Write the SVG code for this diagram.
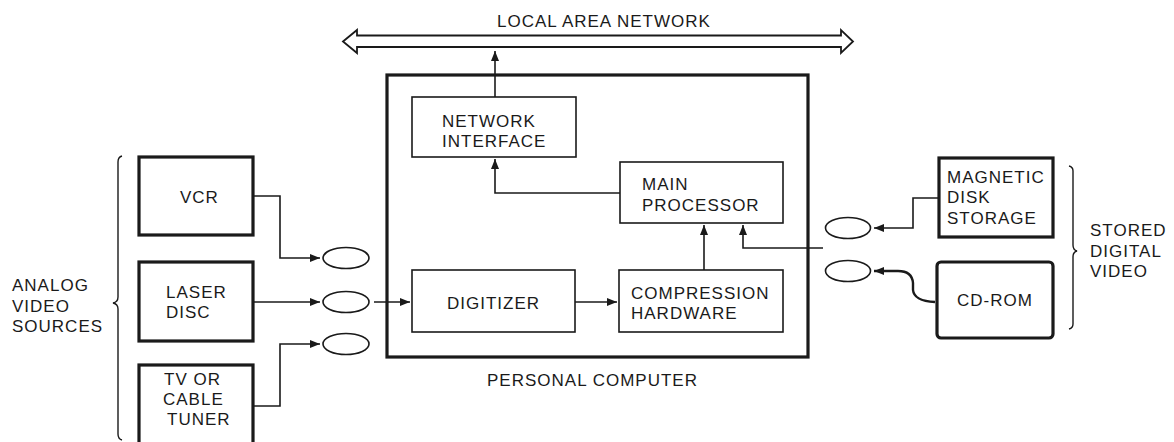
<svg xmlns="http://www.w3.org/2000/svg" width="1174" height="442" viewBox="0 0 1174 442">
<defs>
<style>
text{font-family:"Liberation Sans",Arial,Helvetica,sans-serif;font-size:17px;letter-spacing:1px;fill:#1a1a1a}
.thin{fill:#fff;stroke:#1a1a1a;stroke-width:1.6}
.thick{fill:#fff;stroke:#1a1a1a;stroke-width:3.2}
.ell{fill:#fff;stroke:#1a1a1a;stroke-width:1.6}
.conn{fill:none;stroke:#1a1a1a;stroke-width:1.6}
.brace{fill:none;stroke:#1a1a1a;stroke-width:1.4}
</style>
<marker id="ah" viewBox="0 0 10 8" refX="10" refY="4" markerWidth="10" markerHeight="8" markerUnits="userSpaceOnUse" orient="auto">
<path d="M0,0 L10,4 L0,8 z" fill="#1a1a1a"/>
</marker>
</defs>
<rect width="1174" height="442" fill="#fff"/>

<g id="lan">
<polygon points="343,41.5 357,30 357,35.5 841,35.5 841,30 853,41.5 841,53 841,47 357,47 357,53" fill="#fff" stroke="#1a1a1a" stroke-width="1.8" stroke-linejoin="miter"/>
<text x="497" y="27">LOCAL AREA NETWORK</text>
</g>

<g id="pc">
<rect class="thick" x="387" y="75" width="421" height="282"/>
<text x="487" y="386">PERSONAL COMPUTER</text>
</g>

<g id="network-interface">
<rect class="thin" x="412" y="97" width="164" height="60"/>
<text x="442" y="127">NETWORK</text>
<text x="442" y="147">INTERFACE</text>
</g>

<g id="main-processor">
<rect class="thin" x="620" y="162" width="163" height="61"/>
<text x="642" y="190">MAIN</text>
<text x="642" y="211">PROCESSOR</text>
</g>

<g id="digitizer">
<rect class="thin" x="412" y="270" width="163" height="62"/>
<text x="447" y="309">DIGITIZER</text>
</g>

<g id="compression">
<rect class="thin" x="619" y="270" width="164" height="62"/>
<text x="631" y="299">COMPRESSION</text>
<text x="631" y="319">HARDWARE</text>
</g>

<g id="vcr">
<rect class="thick" x="139" y="157" width="114" height="78"/>
<text x="180" y="203">VCR</text>
</g>

<g id="laser-disc">
<rect class="thick" x="139" y="262" width="114" height="79"/>
<text x="166" y="298">LASER</text>
<text x="166" y="318">DISC</text>
</g>

<g id="tv-tuner">
<rect class="thick" x="139" y="365" width="114" height="90"/>
<text x="164" y="385">TV OR</text>
<text x="163" y="405">CABLE</text>
<text x="167" y="425">TUNER</text>
</g>

<g id="analog-label">
<path class="brace" d="M122,156 Q118,157 118,162 V297 Q118,302 113,303 Q118,304 118,309 V434 Q118,439 122,440"/>
<text x="12" y="291">ANALOG</text>
<text x="12" y="312">VIDEO</text>
<text x="12" y="332">SOURCES</text>
</g>

<g id="ports-left">
<ellipse class="ell" cx="346" cy="258" rx="23" ry="10.5"/>
<ellipse class="ell" cx="346" cy="302" rx="23" ry="10.5"/>
<ellipse class="ell" cx="346" cy="344" rx="23" ry="10.5"/>
</g>

<g id="ports-right">
<ellipse class="ell" cx="848" cy="228" rx="22.5" ry="10.5"/>
<ellipse class="ell" cx="848" cy="271" rx="22.5" ry="10.5"/>
</g>

<g id="magnetic-disk">
<rect class="thick" x="939" y="158" width="114" height="79"/>
<text x="947" y="183">MAGNETIC</text>
<text x="947" y="203">DISK</text>
<text x="947" y="224">STORAGE</text>
</g>

<g id="cd-rom">
<rect class="thick" x="937" y="262" width="116" height="76" rx="4"/>
<text x="957" y="306">CD-ROM</text>
</g>

<g id="stored-label">
<path class="brace" d="M1069,166 Q1073,167 1073,171 V245 Q1073,250 1077,251 Q1073,252 1073,257 V324 Q1073,328 1069,329"/>
<text x="1090" y="236">STORED</text>
<text x="1090" y="257">DIGITAL</text>
<text x="1090" y="277">VIDEO</text>
</g>

<g id="connectors">
<path class="conn" d="M495,97 V51" marker-end="url(#ah)"/>
<path class="conn" d="M620,193 H495 V159" marker-end="url(#ah)"/>
<path class="conn" d="M704,270 V225" marker-end="url(#ah)"/>
<path class="conn" d="M823,248 H743 V225" marker-end="url(#ah)"/>
<path class="conn" d="M575,302 H617" marker-end="url(#ah)"/>
<path class="conn" d="M374,302 H410" marker-end="url(#ah)"/>
<path class="conn" d="M253,196 H280 V258 H320" marker-end="url(#ah)"/>
<path class="conn" d="M253,302 H320" marker-end="url(#ah)"/>
<path class="conn" d="M253,406 H280 V344 H320" marker-end="url(#ah)"/>
<path class="conn" d="M939,198 H913 V228 H874" marker-end="url(#ah)"/>
<path d="M935,302 Q914,301 913,290 V283 Q912,271 898,271 H874" fill="none" stroke="#1a1a1a" stroke-width="2.4" marker-end="url(#ah)"/>
</g>
</svg>
